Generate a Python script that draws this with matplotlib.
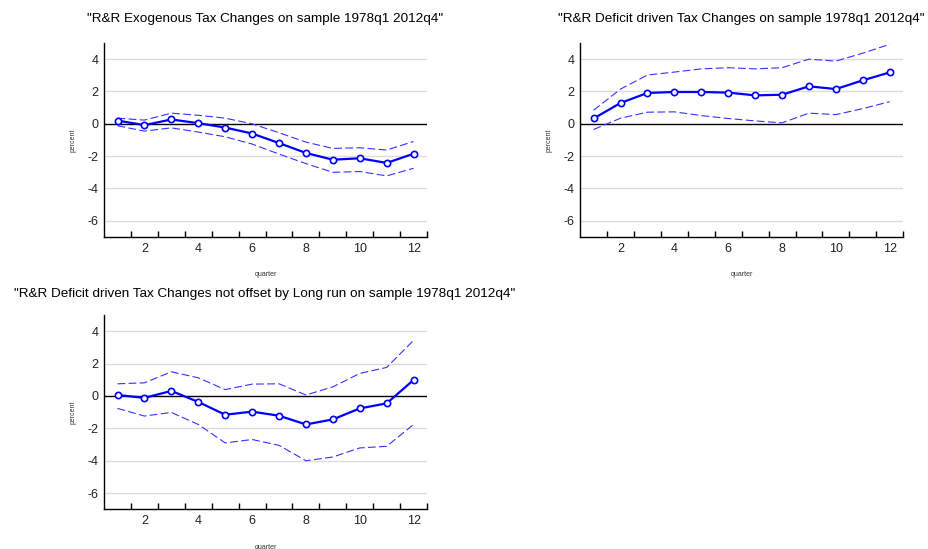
import numpy as np
import matplotlib
matplotlib.use('Agg')
import matplotlib.pyplot as plt

plt.rcParams['font.family'] = ['Liberation Sans', 'DejaVu Sans']

quarters = np.arange(1, 13)

# Exogenous tax changes: response, upper and lower bands
exo_mid = [0.20, -0.08, 0.27, 0.04, -0.23, -0.60, -1.19, -1.80, -2.22, -2.13, -2.42, -1.85]
exo_up = [0.35, 0.23, 0.66, 0.53, 0.35, 0.00, -0.55, -1.13, -1.52, -1.48, -1.62, -1.09]
exo_lo = [-0.12, -0.45, -0.25, -0.51, -0.80, -1.25, -1.87, -2.46, -3.00, -2.95, -3.22, -2.75]

# Deficit driven tax changes
def_mid = [0.33, 1.29, 1.91, 1.97, 1.97, 1.93, 1.76, 1.80, 2.32, 2.15, 2.69, 3.18]
def_up = [0.84, 2.15, 3.02, 3.20, 3.40, 3.47, 3.40, 3.47, 4.00, 3.88, 4.37, 4.92]
def_lo = [-0.35, 0.35, 0.72, 0.74, 0.51, 0.33, 0.18, 0.06, 0.66, 0.57, 0.94, 1.37]

# Deficit driven, not offset by long run
lr_mid = [0.06, -0.12, 0.31, -0.37, -1.16, -0.97, -1.22, -1.76, -1.45, -0.77, -0.46, 0.99]
lr_up = [0.75, 0.81, 1.49, 1.12, 0.39, 0.73, 0.75, 0.06, 0.56, 1.39, 1.76, 3.44]
lr_lo = [-0.77, -1.24, -1.02, -1.76, -2.90, -2.69, -3.05, -4.00, -3.77, -3.21, -3.11, -1.76]

titles = ['"R&R Exogenous Tax Changes on sample 1978q1 2012q4"',
          '"R&R Deficit driven Tax Changes on sample 1978q1 2012q4"',
          '"R&R Deficit driven Tax Changes not offset by Long run on sample 1978q1 2012q4"']

fig = plt.figure(figsize=(9.29, 5.49), dpi=100)

boxes = [[0.112, 0.5683, 0.3477, 0.3534],
         [0.6245, 0.5683, 0.3477, 0.3534],
         [0.112, 0.0723, 0.3477, 0.3540]]
series = [(exo_mid, exo_up, exo_lo), (def_mid, def_up, def_lo), (lr_mid, lr_up, lr_lo)]

blue = '#0000ff'
for i, (box, (mid, up, lo)) in enumerate(zip(boxes, series)):
    ax = fig.add_axes(box)
    for y in [-6, -4, -2, 2, 4]:
        ax.axhline(y, color='#dcdcdc', lw=1.0, zorder=0)
    ax.axhline(0, color='black', lw=1.0, zorder=1)
    ax.plot(quarters, up, color='#3333ff', lw=0.8, dashes=(7, 3), zorder=2)
    ax.plot(quarters, lo, color='#3333ff', lw=0.8, dashes=(7, 3), zorder=2)
    ax.plot(quarters, mid, color=blue, lw=1.6, marker='o', ms=4.5,
            mfc='white', mec=blue, mew=1.2, zorder=3)
    ax.set_xlim(0.5, 12.5)
    ax.set_ylim(-7, 5)
    ax.spines['top'].set_visible(False)
    ax.spines['right'].set_visible(False)
    ax.spines['left'].set_linewidth(1.0)
    ax.spines['bottom'].set_linewidth(1.0)
    ax.set_yticks([-6, -4, -2, 0, 2, 4])
    ax.set_yticklabels(['-6', '-4', '-2', '0', '2', '4'])
    ax.tick_params(axis='y', length=0, labelsize=9, pad=4, labelcolor='#222222')
    ax.set_xticks(np.arange(1.5, 12.6, 1.0))
    ax.set_xticklabels([])
    ax.set_xticks(np.arange(2, 13, 2), minor=True)
    ax.set_xticklabels([str(q) for q in range(2, 13, 2)], minor=True)
    ax.tick_params(axis='x', which='major', direction='in', length=4, width=1.0)
    ax.tick_params(axis='x', which='minor', length=0, labelsize=9, pad=4, labelcolor='#222222')
    ax.set_ylabel('percent', fontsize=5, labelpad=8, color='#333333')
    ax.set_xlabel('quarter', fontsize=5, labelpad=12, color='#333333')
    if i < 2:
        ax.set_title(titles[i], fontsize=9.7, pad=15)

fig.text(265 / 929, (549 - 294) / 549, titles[2], fontsize=9.7, ha='center', va='center')

fig.savefig('out.png', dpi=100)
